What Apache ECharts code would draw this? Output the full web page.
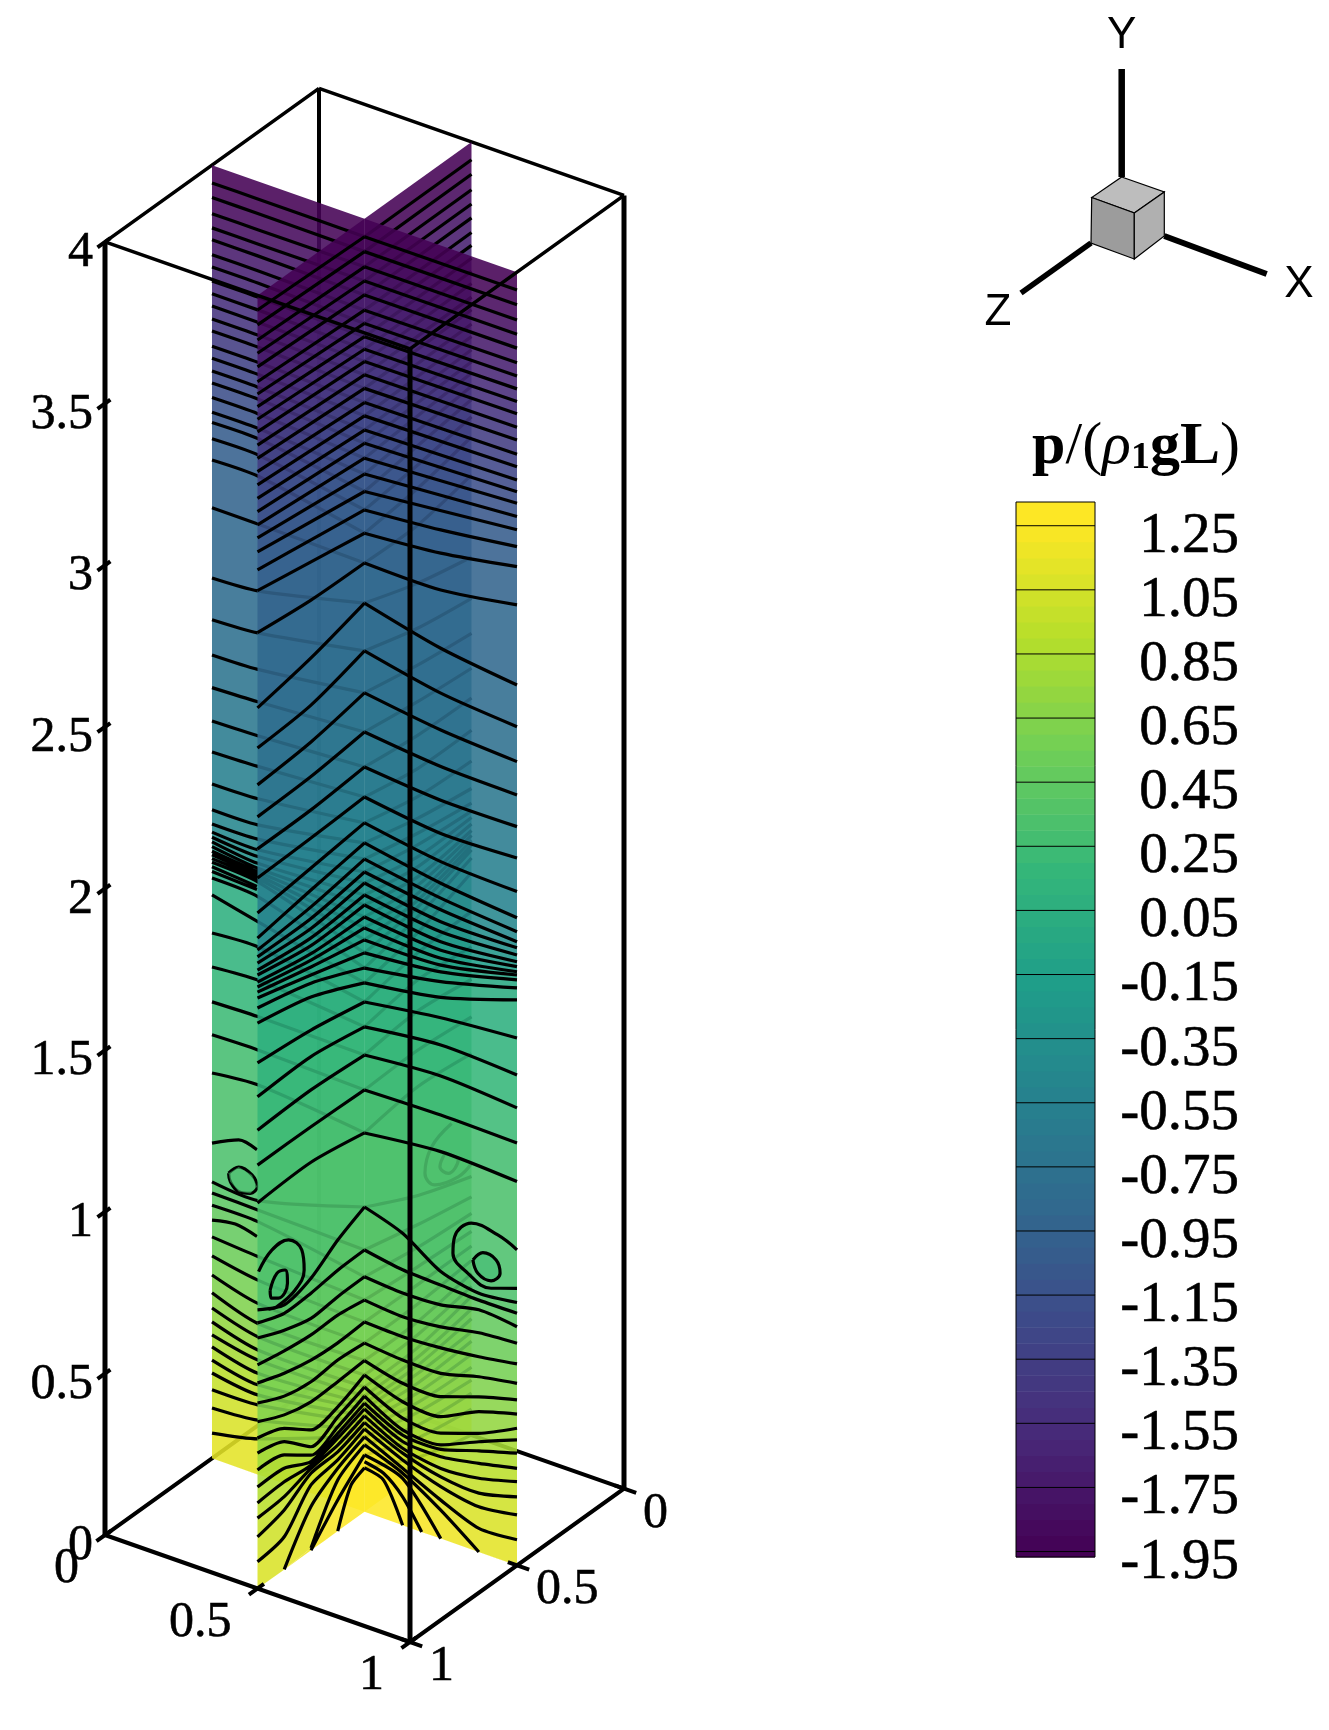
<!DOCTYPE html>
<html>
<head>
<meta charset="utf-8">
<title>p/(rho1 g L) slices</title>
<style>
html, body { margin: 0; padding: 0; background: #fff; }
#main { width: 1329px; height: 1730px; }
</style>
<script src="https://cdn.jsdelivr.net/npm/echarts@6/dist/echarts.min.js"></script>
</head>
<body>
<div id="main"></div>
<script>
// contour levels of p/(rho1 g L), one per black line, top of the column first
var levels = [-1.95,-1.9,-1.85,-1.8,-1.75,-1.7,-1.65,-1.6,-1.55,-1.5,-1.45,-1.4,-1.35,-1.3,-1.25,-1.2,-1.15,-1.1,-1.05,-1,
  -0.95,-0.9,-0.85,-0.8,-0.75,-0.7,-0.65,-0.6,-0.55,-0.5,-0.45,-0.4,-0.35,-0.3,-0.25,-0.2,-0.15,-0.1,-0.05,0,
  0.05,0.1,0.15,0.2,0.25,0.3,0.35,0.4,0.45,0.5,0.55,0.6,0.65,0.7,0.75,0.8,0.85,0.9,0.95,1,1.05,1.1,1.15,1.2,1.25];
var barTicks = [1.25,1.05,0.85,0.65,0.45,0.25,0.05,-0.15,-0.35,-0.55,-0.75,-0.95,-1.15,-1.35,-1.55,-1.75,-1.95];
var barTickLabels = ['1.25','1.05','0.85','0.65','0.45','0.25','0.05','-0.15','-0.35','-0.55','-0.75','-0.95','-1.15','-1.35','-1.55','-1.75','-1.95'];
var heightTicks = [0,0.5,1,1.5,2,2.5,3,3.5,4];
var heightTickLabels = ['0','0.5','1','1.5','2','2.5','3','3.5','4'];
var sideTicks = [0,0.5,1];
var sideTickLabels = ['0','0.5','1'];
var viridis = ['#440154','#482878','#3e4989','#31688e','#26828e','#1f9e89','#35b779','#6ece58','#b5de2b','#fde725'];

// heights of each contour along a wing, evenly spaced, edge -> centre line
var frontLeftLines = [
  [3.955,3.944],[3.909,3.898],[3.862,3.851],[3.821,3.807],[3.779,3.764],[3.733,3.717],[3.695,3.676],[3.656,3.635],
  [3.617,3.596],[3.578,3.558],[3.537,3.517],[3.496,3.475],[3.455,3.431],[3.414,3.39],[3.372,3.346],[3.331,3.305],
  [3.29,3.259],[3.25,3.21],[3.207,3.156],
  [3.151,3.125,3.099],[3.087,3.057,3.027],[2.957,2.939,2.935],[2.724,2.76,2.811],[2.6,2.614,2.663],[2.486,2.5,2.533],
  [2.387,2.393,2.412],[2.288,2.29,2.304],[2.198,2.203,2.211],[2.09,2.11,2.131],[2.012,2.042,2.069],[1.975,1.99,2.019],
  [1.954,1.954,1.979],[1.935,1.923,1.945],[1.913,1.894,1.908],[1.898,1.87,1.877],[1.876,1.845,1.84],[1.861,1.825,1.806],
  [1.845,1.804,1.769],[1.827,1.779,1.729],[1.796,1.754,1.682],[1.749,1.711,1.636],[1.626,1.609,1.577],[1.521,1.527,1.5],
  [1.418,1.424,1.413],[1.31,1.31,1.305],[1.193,1.2,1.172],
  [0.862,0.818,0.841,0.9,0.943],[0.822,0.792,0.795,0.807,0.81],[0.775,0.74,0.717,0.725,0.727],[0.692,0.676,0.666,0.668,0.655],
  [0.636,0.607,0.588,0.582,0.587],[0.574,0.536,0.521,0.529,0.522],[0.516,0.478,0.459,0.462,0.468],[0.466,0.436,0.372,0.384,0.423],
  [0.419,0.395,0.32,0.353,0.386],[0.367,0.354,0.294,0.322,0.358],[0.314,0.313,0.274,0.302,0.336],[0.265,0.271,0.263,0.287,0.318],
  [0.218,0.225,0.253,0.266,0.297],[0.16,0.184,0.238,0.245,0.276],[0.083,0.101,0.202,0.22,0.256],
  [null,0,0.135,0.194,0.232],[null,null,0.007,0.158,0.207],[null,null,0,0.096,0.176],
  [null,null,null,null,null,null,0,0.113,0.136]
];
// centre line -> right edge
var frontRightLines = [
  [3.944,3.945],[3.898,3.899],[3.851,3.852],[3.807,3.808],[3.764,3.765],[3.717,3.72],[3.676,3.679],[3.635,3.639],
  [3.596,3.6],[3.558,3.562],[3.517,3.52],[3.475,3.481],[3.431,3.437],[3.39,3.398],[3.346,3.357],[3.305,3.321],
  [3.259,3.285],[3.21,3.244],[3.156,3.203],
  [3.099,3.12,3.151],[3.027,3.048,3.089],[2.935,2.934,2.971],[2.811,2.754,2.723],[2.663,2.615,2.594],[2.533,2.501,2.486],
  [2.412,2.388,2.383],[2.304,2.284,2.285],[2.211,2.181,2.188],[2.131,2.094,2.084],[2.069,2.027,2.003],[2.019,1.981,1.96],
  [1.979,1.945,1.929],[1.945,1.908,1.91],[1.908,1.877,1.888],[1.877,1.846,1.867],[1.84,1.82,1.852],[1.806,1.795,1.836],
  [1.769,1.774,1.826],[1.729,1.753,1.811],[1.682,1.723,1.786],[1.636,1.674,1.749],[1.577,1.611,1.631],[1.5,1.527,1.517],
  [1.413,1.431,1.415],[1.305,1.31,1.306],[1.172,1.197,1.187],
  [0.943,0.903,0.826,0.8,0.813],[0.81,0.79,0.784,0.779,0.78],[0.727,0.718,0.723,0.749,0.738],[0.655,0.645,0.655,0.678,0.687],
  [0.587,0.583,0.59,0.604,0.623],[0.522,0.511,0.511,0.542,0.563],[0.468,0.439,0.439,0.48,0.512],[0.423,0.382,0.377,0.434,0.468],
  [0.386,0.331,0.326,0.367,0.424],[0.358,0.295,0.29,0.341,0.388],[0.336,0.279,0.276,0.313,0.347],[0.318,0.259,0.253,0.274,0.3],
  [0.297,0.238,0.217,0.228,0.259],[0.276,0.223,0.191,0.182,0.212],[0.256,0.202,0.161,0.14,0.156],[0.232,0.176,0.119,0.073,0.079],
  [0.207,0.161,0.088,0,null],[0.176,0.145,0,null,null],
  [0.155,0.14,0.088,0,null,null,null,null,null],
  [0.136,0.119,0,null,null,null,null,null,null]
];
// back wing on the left: at the edge, where the front wing starts to hide it, at the centre line
var backLeftStops = [0,0.3,1];
var backLeftLines = [
  [3.945,3.945,3.944],[3.9,3.9,3.898],[3.85,3.85,3.851],[3.806,3.806,3.807],[3.769,3.769,3.764],[3.723,3.723,3.717],
  [3.685,3.685,3.676],[3.642,3.642,3.635],[3.602,3.602,3.596],[3.564,3.564,3.558],[3.524,3.524,3.517],[3.487,3.487,3.475],
  [3.44,3.44,3.431],[3.403,3.403,3.39],[3.363,3.363,3.346],[3.326,3.326,3.305],[3.281,3.281,3.259],[3.236,3.236,3.21],
  [3.204,3.204,3.156],[3.154,3.154,3.099],[3.088,3.088,3.027],[2.94,2.94,2.935],[2.723,2.733,2.811],[2.594,2.603,2.663],
  [2.485,2.49,2.533],[2.384,2.39,2.412],[2.281,2.285,2.304],[2.185,2.19,2.211],[2.086,2.09,2.131],[2.006,2.009,2.069],
  [1.962,1.965,2.019],[1.937,1.932,1.979],[1.921,1.911,1.945],[1.907,1.89,1.908],[1.892,1.875,1.877],[1.878,1.864,1.84],
  [1.867,1.854,1.806],[1.855,1.844,1.769],[1.844,1.833,1.729],[1.795,1.787,1.682],[1.743,1.71,1.636],[1.625,1.632,1.577],
  [1.52,1.529,1.5],[1.412,1.416,1.413],[1.31,1.313,1.305],[1.192,1.205,1.172],[0.855,0.847,0.943],[0.821,0.818,0.81],
  [0.783,0.782,0.727],[0.685,0.674,0.655],[0.626,0.601,0.587],[0.567,0.529,0.522],[0.512,0.467,0.468],[0.465,0.426,0.423],
  [0.422,0.385,0.386],[0.382,0.354,0.358],[0.345,0.313,0.336],[0.304,0.277,0.318],[0.264,0.246,0.297],[0.212,0.215,0.276],
  [0.156,0.168,0.256],[0.078,0.11,0.232],[null,null,0.207],[null,null,0.176],[null,null,0.136]
];
// back wing on the right: centre line -> far edge, seen through the front wing
var backRightLines = [
  [3.944,3.945],[3.898,3.9],[3.851,3.852],[3.807,3.808],[3.764,3.765],[3.717,3.72],[3.676,3.68],[3.635,3.64],[3.596,3.6],
  [3.558,3.562],[3.517,3.52],[3.475,3.481],[3.431,3.437],[3.39,3.398],[3.346,3.357],[3.305,3.32],[3.259,3.285],[3.21,3.244],
  [3.156,3.203],[3.099,3.12,3.15],[3.027,3.048,3.088],[2.935,2.934,2.97],[2.811,2.754,2.716],[2.663,2.615,2.588],
  [2.533,2.501,2.48],[2.412,2.388,2.372],[2.304,2.284,2.28],[2.211,2.181,2.18],[2.131,2.094,2.085],[2.069,2.027,2],
  [2.019,1.981,1.955],[1.979,1.945,1.93],[1.945,1.908,1.91],[1.908,1.877,1.89],[1.877,1.846,1.87],[1.84,1.82,1.855],
  [1.806,1.795,1.84],[1.769,1.774,1.825],[1.729,1.753,1.81],[1.682,1.723,1.785],[1.636,1.674,1.74],[1.577,1.611,1.62],
  [1.5,1.527,1.51],[1.413,1.431,1.41],[1.305,1.31,1.294],[1.172,1.197,1.18],[0.943,0.86,0.8],[0.81,0.77,0.737],[0.727,0.7,0.686],
  [0.655,0.64,0.63],[0.587,0.585,0.585],[0.522,0.525,0.54],[0.468,0.47,0.5],[0.423,0.43,0.46],[0.386,0.39,0.43],[0.358,0.36,0.39],
  [0.336,0.335,0.36],[0.318,0.31,0.32],[0.297,0.28,0.29],[0.276,0.25,0.25],[0.256,0.22,0.21],[0.232,0.19,0.17],[0.207,0.15,0.13],
  [0.176,0.11,0.08],[0.136,0.05,0]
];
// extra lines on the back left wing, not tied to the centre line
var backLeftExtra = [
  [[0,0.975],[0.175,1.014],[0.295,1.003]],
  [[0,0.737],[0.153,0.75],[0.295,0.735]],
  [[0,1.83],[0.295,1.818]],
  [[0,1.815],[0.295,1.808]]
];
// closed and open vortex contours, as [position along wing, height]
var backLeftLoops = [
  [[0.109,0.9],[0.175,0.93],[0.262,0.92],[0.295,0.889],[0.251,0.861],[0.175,0.854],[0.12,0.876],[0.109,0.9]]
];
var backRightLoops = [
  [[0.814,1.008],[0.627,0.98],[0.565,0.913],[0.658,0.855],[0.876,0.828],[1,0.84]],
  [[0.752,0.93],[0.705,0.9],[0.783,0.861],[0.876,0.88],[0.752,0.93]]
];
var frontLeftLoops = [
  [[0.01,0.978],[0.134,1.015],[0.29,1.01],[0.414,0.949],[0.436,0.882],[0.352,0.84],[0.181,0.829],[0.103,0.84]],
  [[0.118,0.895],[0.181,0.932],[0.259,0.924],[0.28,0.878],[0.196,0.852],[0.128,0.868],[0.118,0.895]]
];
var frontRightLoops = [
  [[1,0.976],[0.874,1.001],[0.7,1.009],[0.591,0.949],[0.58,0.896],[0.678,0.85],[0.83,0.829],[1,0.857]],
  [[0.711,0.897],[0.776,0.93],[0.863,0.922],[0.889,0.885],[0.83,0.852],[0.743,0.861],[0.711,0.897]]
];

// oblique projection of the box on the page
var pageW = 1329, pageH = 1730;
var OX = 319, OY = 1381.6, UX = 305, UY = 107, VX = -214, VY = 153.5, H = 323.3;
var SLICE_ALPHA = 0.88;
var CONTOUR_WIDTH = 3.2;

function project(x, y, z) {
    return [OX + x * UX + z * VX, OY + x * UY + z * VY - y * H];
}
function placeFrontLeft(t, y) { return project(0.5, y, 1 - t * 0.5); }
function placeFrontRight(t, y) { return project(0.5 + t * 0.5, y, 0.5); }
function placeBackLeft(t, y) { return project(t * 0.5, y, 0.5); }
function placeBackRight(t, y) { return project(0.5, y, 0.5 - t * 0.5); }

function hexRgb(c) {
    return [parseInt(c.substr(1, 2), 16), parseInt(c.substr(3, 2), 16), parseInt(c.substr(5, 2), 16)];
}
function colorAt(p, alpha) {
    var f = (p - levels[0]) / (levels[levels.length - 1] - levels[0]);
    f = Math.max(0, Math.min(1, f)) * (viridis.length - 1);
    var i = Math.min(Math.floor(f), viridis.length - 2);
    var a = hexRgb(viridis[i]), b = hexRgb(viridis[i + 1]);
    var c = [0, 1, 2].map(function (k) { return Math.round(a[k] + (b[k] - a[k]) * (f - i)); });
    return 'rgba(' + c[0] + ',' + c[1] + ',' + c[2] + ',' + alpha + ')';
}

function rowPoints(row, place, stops) {
    return row.map(function (y, j) {
        var t = stops ? stops[j] : j / (row.length - 1);
        return place(t, y === null ? 0 : y);
    });
}
// black lines of a wing, one line series with gaps
function linePath(rows, place, stops) {
    var out = [];
    rows.forEach(function (row) {
        row.forEach(function (y, j) {
            var t = stops ? stops[j] : j / (row.length - 1);
            out.push(y === null ? [NaN, NaN] : place(t, y));
        });
        out.push([NaN, NaN]);
    });
    return out;
}
function loopPath(loops, place) {
    var out = [];
    loops.forEach(function (loop) {
        loop.forEach(function (q) { out.push(place(q[0], q[1])); });
        out.push([NaN, NaN]);
    });
    return out;
}
// filled band between two neighbouring contours
function bandPolys(rows, place, stops) {
    var polys = [];
    var upper = [place(0, 4), place(1, 4)];
    for (var k = 0; k <= rows.length; k++) {
        var lower = k < rows.length ? rowPoints(rows[k], place, stops) : [place(0, 0), place(1, 0)];
        var i = Math.min(k, levels.length - 1);
        var p = k === 0 ? levels[0] : (levels[i] + levels[Math.min(k - 1, levels.length - 1)]) / 2;
        if (k >= rows.length) p = levels[levels.length - 1];
        polys.push({ points: upper.concat(lower.slice().reverse()), fill: colorAt(p, SLICE_ALPHA) });
        upper = lower;
    }
    return polys;
}
function loopFills(loop, place, p) {
    return { points: loop.map(function (q) { return place(q[0], q[1]); }), fill: colorAt(p, 0.55) };
}

function bandSeries(polys, z) {
    return {
        type: 'custom', xAxisIndex: 0, yAxisIndex: 0, z: z, silent: true, clip: false,
        data: polys.map(function (q, i) { return [i]; }),
        encode: { x: 0 },
        renderItem: function (params, api) {
            var q = polys[params.dataIndex];
            return {
                type: 'polygon',
                shape: { points: q.points.map(function (pt) { return api.coord(pt); }) },
                style: { fill: q.fill }
            };
        }
    };
}
function pathSeries(data, z, width, smooth) {
    return {
        type: 'line', xAxisIndex: 0, yAxisIndex: 0, z: z, silent: true, data: data,
        symbol: 'none', smooth: smooth || 0, connectNulls: false, clip: false,
        lineStyle: { color: '#000', width: width, cap: 'butt', join: 'round' }
    };
}
function segments(list) {
    var out = [];
    list.forEach(function (s) { out.push(s[0], s[1], [NaN, NaN]); });
    return out;
}
function tickLabels(points, labels, position, distance, offset) {
    return {
        type: 'scatter', xAxisIndex: 0, yAxisIndex: 0, z: 9, silent: true, symbolSize: 0, clip: false,
        itemStyle: { opacity: 1 },
        data: points.map(function (pt, i) { return { value: pt, name: labels[i] }; }),
        label: {
            show: true, position: position, distance: distance, offset: offset, opacity: 1,
            formatter: '{b}', color: '#000', fontFamily: 'Liberation Serif', fontSize: 50,
            textBorderColor: '#000', textBorderWidth: 0.6
        }
    };
}

var backBox = segments([
    [project(0, 0, 0), project(0, 4, 0)],
    [project(0, 0, 0), project(0, 0, 1)],
    [project(0, 0, 0), project(1, 0, 0)]
]);
var backTop = segments([[project(0, 4, 1), project(0, 4, 0)], [project(0, 4, 0), project(1, 4, 0)]]);
var frontTop = segments([[project(0, 4, 1), project(1, 4, 1)], [project(1, 4, 1), project(1, 4, 0)]]);
var frontVerticals = segments([
    [project(0, 0, 1), project(0, 4, 1)],
    [project(1, 0, 1), project(1, 4, 1)],
    [project(1, 0, 0), project(1, 4, 0)]
]);
var frontBottom = segments([[project(0, 0, 1), project(1, 0, 1)], [project(1, 0, 1), project(1, 0, 0)]]);

var tickSegs = [];
heightTicks.forEach(function (v) { tickSegs.push([project(0, v, 1.035), project(0, v, 0.975)]); });
sideTicks.forEach(function (v) {
    tickSegs.push([project(v, 0, 1.04), project(v, 0, 0.97)]);
    tickSegs.push([project(1.04, 0, v), project(0.97, 0, v)]);
});

var backLeftPolys = bandPolys(backLeftLines, placeBackLeft, backLeftStops);
var backRightPolys = bandPolys(backRightLines, placeBackRight);
var frontLeftPolys = bandPolys(frontLeftLines, placeFrontLeft);
var frontRightPolys = bandPolys(frontRightLines, placeFrontRight);
var vortexPolys = [
    loopFills(frontLeftLoops[1], placeFrontLeft, 0.25),
    loopFills(frontRightLoops[1], placeFrontRight, 0.25),
    loopFills(backLeftLoops[0], placeBackLeft, 0.3)
];

// colour bar cells run between the levels, with a short cap at each end
var BAR_MIN = -1.967, BAR_MAX = 1.324;
var barCells = [{ lo: BAR_MIN, hi: levels[0], p: levels[0] }];
levels.forEach(function (v, i) {
    if (i < levels.length - 1) barCells.push({ lo: v, hi: levels[i + 1], p: (v + levels[i + 1]) / 2 });
});
barCells.push({ lo: levels[levels.length - 1], hi: BAR_MAX, p: levels[levels.length - 1] });

var myChart = echarts.init(document.getElementById('main'));

var series = [
    pathSeries(backBox, 1, 4),
    pathSeries(backTop, 1, 3.6),
    bandSeries(backLeftPolys, 2),
    bandSeries(backRightPolys, 2),
    pathSeries(linePath(backLeftLines, placeBackLeft, backLeftStops), 3, CONTOUR_WIDTH, 0.25),
    pathSeries(linePath(backRightLines, placeBackRight), 3, CONTOUR_WIDTH, 0.25),
    pathSeries(loopPath(backLeftExtra, placeBackLeft), 3, CONTOUR_WIDTH, 0.3),
    pathSeries(loopPath(backLeftLoops, placeBackLeft), 3, CONTOUR_WIDTH, 0.4),
    pathSeries(loopPath(backRightLoops, placeBackRight), 3, CONTOUR_WIDTH, 0.4),
    bandSeries(frontLeftPolys, 4),
    bandSeries(frontRightPolys, 4),
    bandSeries(vortexPolys, 4),
    pathSeries(linePath(frontLeftLines, placeFrontLeft), 5, CONTOUR_WIDTH, 0.25),
    pathSeries(linePath(frontRightLines, placeFrontRight), 5, CONTOUR_WIDTH, 0.25),
    pathSeries(loopPath(frontLeftLoops, placeFrontLeft), 5, CONTOUR_WIDTH, 0.4),
    pathSeries(loopPath(frontRightLoops, placeFrontRight), 5, CONTOUR_WIDTH, 0.4),
    pathSeries(frontTop, 6, 3.6),
    pathSeries(frontVerticals, 6, 5),
    pathSeries(frontBottom, 6, 4.2),
    pathSeries(segments(tickSegs), 6, 4),
    tickLabels(heightTicks.map(function (v) { return project(0, v, 1); }), heightTickLabels, 'left', 12, [0, 11]),
    tickLabels(sideTicks.map(function (v) { return project(v, 0, 1); }), sideTickLabels, 'left', 26, [0, 34]),
    tickLabels(sideTicks.map(function (v) { return project(1, 0, v); }), sideTickLabels, 'right', 19, [0, 25]),
    {
        type: 'custom', xAxisIndex: 1, yAxisIndex: 1, z: 3, silent: true, clip: false,
        data: barCells.map(function (c, i) { return [0, c.p, i]; }),
        encode: { x: 0, y: 1 },
        renderItem: function (params, api) {
            var c = barCells[params.dataIndex];
            var a = api.coord([0, c.hi]), b = api.coord([1, c.lo]);
            return {
                type: 'rect',
                shape: { x: a[0], y: a[1], width: b[0] - a[0], height: b[1] - a[1] + 0.6 },
                style: { fill: colorAt(c.p, 1) }
            };
        }
    },
    {
        type: 'custom', xAxisIndex: 1, yAxisIndex: 1, z: 4, silent: true, clip: false,
        data: barTicks.map(function (v) { return [0, v]; }),
        encode: { x: 0, y: 1 },
        renderItem: function (params, api) {
            var a = api.coord([0, api.value(1)]), b = api.coord([1, api.value(1)]);
            return {
                type: 'line',
                shape: { x1: a[0], y1: a[1], x2: b[0], y2: b[1] },
                style: { stroke: '#000', lineWidth: 1 }
            };
        }
    },
    {
        type: 'custom', xAxisIndex: 1, yAxisIndex: 1, z: 5, silent: true, clip: false,
        data: [[0, BAR_MIN]],
        encode: { x: 0, y: 1 },
        renderItem: function (params, api) {
            var a = api.coord([0, BAR_MAX]), b = api.coord([1, BAR_MIN]);
            return {
                type: 'rect',
                shape: { x: a[0], y: a[1], width: b[0] - a[0], height: b[1] - a[1] },
                style: { fill: 'none', stroke: '#000', lineWidth: 1 }
            };
        }
    },
    {
        // labels sit a little below their tick, as in the original legend
        type: 'scatter', xAxisIndex: 1, yAxisIndex: 1, z: 6, silent: true, symbolSize: 0, clip: false,
        itemStyle: { opacity: 1 },
        data: barTicks.map(function (v, i) { return { value: [1, v], name: barTickLabels[i] }; }),
        label: {
            show: true, position: 'right', distance: 144, align: 'right', offset: [0, 11], opacity: 1,
            formatter: '{b}', color: '#000', fontFamily: 'Liberation Serif', fontSize: 57,
            textBorderColor: '#000', textBorderWidth: 0.6
        }
    }
];

var option = {
    animation: false,
    backgroundColor: '#fff',
    grid: [
        { left: 0, top: 0, width: pageW, height: pageH },
        { left: 1016, top: 502, width: 79, height: 1055 }
    ],
    xAxis: [
        { type: 'value', gridIndex: 0, min: 0, max: pageW, show: false },
        { type: 'value', gridIndex: 1, min: 0, max: 1, show: false }
    ],
    yAxis: [
        { type: 'value', gridIndex: 0, min: 0, max: pageH, inverse: true, show: false },
        { type: 'value', gridIndex: 1, min: BAR_MIN, max: BAR_MAX, show: false }
    ],
    series: series,
    graphic: [
        { type: 'polygon', z: 20, shape: { points: [[1121.7, 177], [1164.3, 192], [1134.3, 213], [1091.7, 197.5]] }, style: { fill: '#bdbdbd', stroke: '#000', lineWidth: 1.2 } },
        { type: 'polygon', z: 20, shape: { points: [[1091.7, 197.5], [1134.3, 213], [1134.3, 259], [1091, 243]] }, style: { fill: '#9c9c9c', stroke: '#000', lineWidth: 1.2 } },
        { type: 'polygon', z: 20, shape: { points: [[1134.3, 213], [1164.3, 192], [1164.3, 236], [1134.3, 259]] }, style: { fill: '#b0b0b0', stroke: '#000', lineWidth: 1.2 } },
        { type: 'line', z: 19, shape: { x1: 1121.7, y1: 177, x2: 1121.7, y2: 69 }, style: { stroke: '#000', lineWidth: 6.5 } },
        { type: 'line', z: 19, shape: { x1: 1164.3, y1: 236, x2: 1266.7, y2: 274 }, style: { stroke: '#000', lineWidth: 6 } },
        { type: 'line', z: 19, shape: { x1: 1091, y1: 243, x2: 1021, y2: 293 }, style: { stroke: '#000', lineWidth: 5.5 } },
        { type: 'text', z: 20, x: 1121.7, y: 36, style: { text: 'Y', fill: '#000', font: '44px "Liberation Sans"', align: 'center', verticalAlign: 'middle' } },
        { type: 'text', z: 20, x: 1299, y: 285, style: { text: 'X', fill: '#000', font: '44px "Liberation Sans"', align: 'center', verticalAlign: 'middle' } },
        { type: 'text', z: 20, x: 998, y: 313, style: { text: 'Z', fill: '#000', font: '44px "Liberation Sans"', align: 'center', verticalAlign: 'middle' } },
        {
            type: 'text', z: 20, x: 1136, y: 447,
            style: {
                text: '{b|p}{n|/(}{i|ρ}{s|1}{b|gL}{n|)}', fill: '#000', align: 'center', verticalAlign: 'middle',
                rich: {
                    b: { fontFamily: 'Liberation Serif', fontWeight: 'bold', fontSize: 60, fill: '#000' },
                    n: { fontFamily: 'Liberation Serif', fontSize: 60, fill: '#000' },
                    i: { fontFamily: 'Liberation Serif', fontStyle: 'italic', fontSize: 60, fill: '#000' },
                    s: { fontFamily: 'Liberation Serif', fontWeight: 'bold', fontSize: 38, fill: '#000', verticalAlign: 'bottom' }
                }
            }
        }
    ]
};

myChart.setOption(option);
</script>
</body>
</html>
